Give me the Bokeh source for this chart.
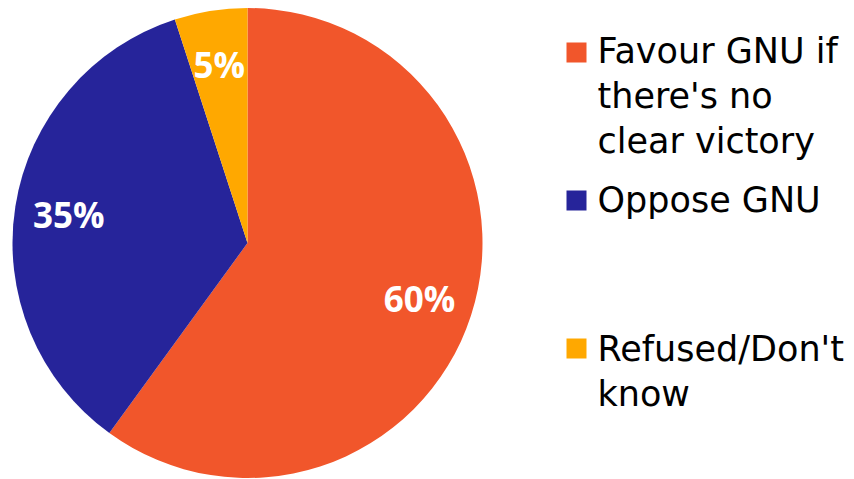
import math
from bokeh.plotting import figure
from bokeh.models import Range1d, ColumnDataSource
from bokeh.core.properties import value
from bokeh.embed import file_html
from bokeh.resources import INLINE

# ---- data ----
categories = ["Favour GNU if there's no clear victory", "Oppose GNU", "Refused/Don't know"]
shares = [60, 35, 5]
pct_labels = ["60%", "35%", "5%"]
colors = ["#F1562B", "#26249A", "#FFA800"]
legend_lines = [["Favour GNU if", "there's no", "clear victory"],
                ["Oppose GNU"],
                ["Refused/Don't", "know"]]

W, H = 854, 479
p = figure(width=W, height=H, x_range=Range1d(0, W), y_range=Range1d(0, H),
           output_backend="svg", toolbar_location=None, min_border=0)
p.axis.visible = False
p.grid.visible = False
p.outline_line_color = None
p.background_fill_color = "white"


def sy(y):  # screen y -> data y
    return H - y


def sx(x):  # screen x -> data x
    return x


cx, cy, r = sx(247), sy(242.5), 235
total = sum(shares)
starts, ends, mids = [], [], []
acc = 0
for s in shares:
    a0 = math.pi / 2 - 2 * math.pi * acc / total
    acc += s
    a1 = math.pi / 2 - 2 * math.pi * acc / total
    starts.append(a0)
    ends.append(a1)
    mids.append((a0 + a1) / 2)

src = ColumnDataSource(dict(x=[cx] * 3, y=[cy] * 3, start=starts, end=ends,
                            color=colors, cat=categories))
p.wedge(x="x", y="y", radius=r, start_angle="start", end_angle="end",
        direction="clock", fill_color="color", line_color=None, source=src)

# percentage labels
lr = 0.77 * r
lsrc = ColumnDataSource(dict(x=[cx + lr * math.cos(m) for m in mids],
                             y=[cy + lr * math.sin(m) for m in mids],
                             t=pct_labels))
p.text(x="x", y="y", text="t", source=lsrc, text_color="white",
       text_font=value("Open Sans"), text_font_style="bold",
       text_font_size="35px", text_align="center", text_baseline="middle")

# legend
square_tops = [42, 190, 338]
text_centers = [50, 199, 348]
line_gap = 45
qx0, qx1 = sx(566), sx(586)
for lines, col, t0, c0 in zip(legend_lines, colors, square_tops, text_centers):
    p.quad(left=[qx0], right=[qx1], top=[sy(t0)], bottom=[sy(t0 + 20)],
           fill_color=col, line_color=None)
    xs = [sx(597)] * len(lines)
    ys = [sy(c0 + i * line_gap) for i in range(len(lines))]
    p.text(x=xs, y=ys, text=lines, text_color="black",
           text_font=value("DejaVu Sans"), text_font_size="35px",
           text_align="left", text_baseline="middle")

open("out.html", "w").write(file_html(p, INLINE))
